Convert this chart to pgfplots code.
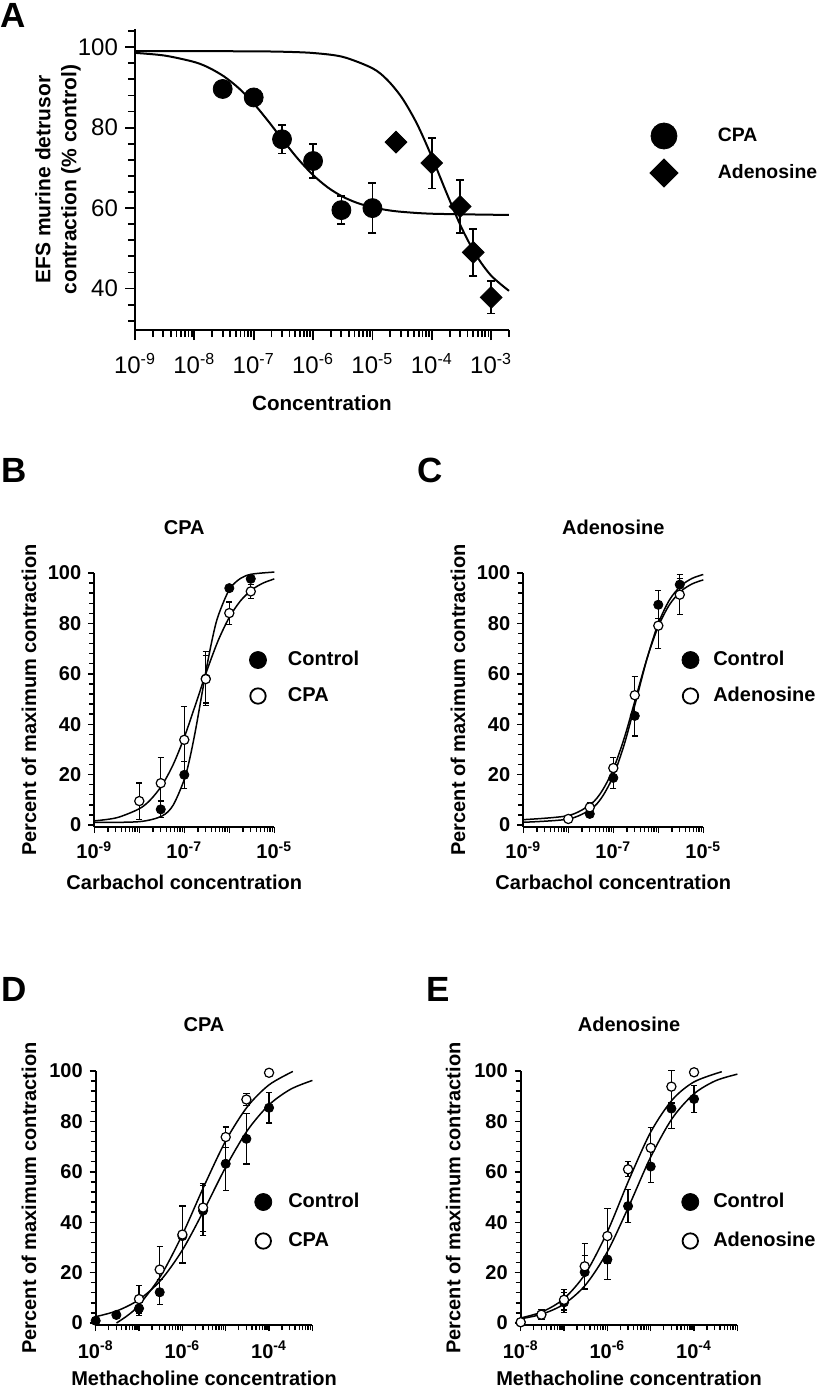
\documentclass[border=0pt]{standalone}
\usepackage{fontspec}
\setmainfont{Liberation Sans}
\usepackage{pgfplots}
\usepackage{pgfplotstable}
\pgfplotsset{compat=1.18}

\newcommand{\fb}{\bfseries\fontsize{10}{12}\selectfont}
\newcommand{\sx}[1]{10\textsuperscript{-#1}}

% ---------------- Panel A data ----------------
\pgfplotstableread{
x y e
3e-8 89.6 0
1e-7 87.5 2.0
3e-7 77.1 3.5
1e-6 71.7 4.3
3e-6 59.5 3.5
1e-5 60.0 6.2
}\Acpa
\pgfplotstableread{
x y e
2.5e-5 76.4 0
1e-4 71.2 6.3
3e-4 60.4 6.6
5e-4 49.0 5.8
1e-3 37.8 4.0
}\Aado
\pgfplotstableread{
x y
1e-9 98.57
3.162e-9 97.90
1e-8 96.30
1.778e-8 94.84
3.162e-8 92.71
5.623e-8 89.77
1e-7 85.99
1.778e-7 81.51
3.162e-7 76.73
5.623e-7 72.16
1e-6 68.22
1.778e-6 65.11
3.162e-6 62.83
5.623e-6 61.25
1e-5 60.19
1.778e-5 59.50
3.162e-5 59.06
1e-4 58.60
1e-3 58.35
2e-3 58.32
}\AcpaFit
\pgfplotstableread{
x y
1e-9 99.0
1e-8 99.0
1e-7 98.95
3.162e-7 98.85
1e-6 98.54
3.162e-6 97.58
1e-5 94.75
1.778e-5 91.86
3.162e-5 87.36
5.623e-5 80.96
1e-4 72.76
1.778e-4 63.74
3.162e-4 55.17
5.623e-4 48.23
1e-3 43.22
2e-3 39.43
}\AadoFit

% ---------------- Panel B data ----------------
\pgfplotstableread{
x y e
3e-8 6.2 3.3
1e-7 19.9 5.3
3e-7 58.1 10.7
1e-6 94.0 0
3e-6 97.7 0
}\Bctl
\pgfplotstableread{
x y e
1e-8 9.5 7.2
3e-8 16.6 10.3
1e-7 33.8 13.2
3e-7 57.9 9.5
1e-6 84.1 4.4
3e-6 92.7 2.7
}\Bcpa
\pgfplotstableread{
x y
1e-9 1.0
1e-8 1.33
3.162e-8 3.53
5.623e-8 7.81
1e-7 18.06
1.334e-7 26.66
1.778e-7 37.66
2.371e-7 50.23
3.162e-7 62.87
4.217e-7 74.05
5.623e-7 82.84
1e-6 93.43
1.778e-6 97.87
3.162e-6 99.55
1e-5 100.38
}\BctlFit
\pgfplotstableread{
x y
1e-9 1.64
3.162e-9 2.89
1e-8 6.45
1.778e-8 10.05
3.162e-8 15.66
5.623e-8 23.86
1e-7 34.81
1.778e-7 47.80
3.162e-7 61.15
5.623e-7 73.07
1e-6 82.40
1.778e-6 88.98
3.162e-6 93.32
5.623e-6 96.01
1e-5 97.65
}\BcpaFit

% ---------------- Panel C data ----------------
\pgfplotstableread{
x y e
3e-8 4.4 1.5
1e-7 18.7 4.2
3e-7 43.3 8.0
1e-6 87.4 5.6
3e-6 95.4 2.5
}\Cctl
\pgfplotstableread{
x y e
1e-8 2.4 0
3e-8 7.0 2.0
1e-7 22.6 4.3
3e-7 51.5 7.5
1e-6 79.1 9.0
3e-6 91.4 8.0
}\Cado
\pgfplotstableread{
x y
1e-9 1.08
1e-8 2.35
3.162e-8 6.26
5.623e-8 11.08
1e-7 19.46
1.778e-7 32.35
3.162e-7 48.96
5.623e-7 66.04
1e-6 79.98
1.778e-6 89.35
3.162e-6 94.87
5.623e-6 97.86
1e-5 99.42
}\CctlFit
\pgfplotstableread{
x y
1e-9 2.12
1e-8 3.73
3.162e-8 8.28
5.623e-8 13.53
1e-7 22.20
1.778e-7 34.88
3.162e-7 50.50
5.623e-7 66.12
1e-6 78.80
1.778e-6 87.47
3.162e-6 92.72
5.623e-6 95.67
1e-5 97.27
}\CadoFit

% ---------------- Panel D data ----------------
\pgfplotstableread{
x y e
1e-8 0.9 0
3e-8 3.2 0
1e-7 5.8 2.7
3e-7 12.2 5.0
1e-6 34.5 0
3e-6 44.6 10.0
1e-5 63.2 10.6
3e-5 73.1 10.0
1e-4 85.4 6.0
}\Dctl
\pgfplotstableread{
x y e
1e-7 9.5 5.5
3e-7 21.2 9.3
1e-6 35.1 11.3
3e-6 45.8 9.5
1e-5 73.8 4.0
3e-5 88.7 2.3
1e-4 99.3 0
}\Dcpa
\pgfplotstableread{
x y
1e-8 2.51
3.162e-8 4.88
1e-7 9.28
3.162e-7 16.95
1e-6 28.94
3.162e-6 44.84
1e-5 61.86
3.162e-5 76.40
1e-4 86.59
3.162e-4 92.80
1e-3 96.26
}\DctlFit
\pgfplotstableread{
x y
3.02e-8 0.0
5.623e-8 3.16
1e-7 7.15
3.162e-7 18.68
1e-6 35.10
3.162e-6 54.33
1e-5 72.29
3.162e-5 85.84
1e-4 94.51
3.55e-4 99.83
}\DcpaFit

% ---------------- Panel E data ----------------
\pgfplotstableread{
x y e
1e-8 0.3 0
3e-8 3.3 0
1e-7 8.2 4.0
3e-7 20.2 6.5
1e-6 25.2 7.8
3e-6 46.4 6.6
1e-5 62.1 6.4
3e-5 85.1 8.0
1e-4 88.9 5.3
}\Ectl
\pgfplotstableread{
x y e
1e-8 0.3 0
3e-8 3.3 2.0
1e-7 9.2 4.0
3e-7 22.5 9.0
1e-6 34.5 11.0
3e-6 61.0 3.0
1e-5 69.5 8.0
3e-5 93.8 6.5
1e-4 99.5 0
}\Eado
\pgfplotstableread{
x y
1e-8 1.66
3.162e-8 3.57
1e-7 7.53
3.162e-7 15.19
1e-6 28.29
3.162e-6 46.52
1e-5 65.90
3.162e-5 81.31
1e-4 90.97
3.162e-4 96.17
1e-3 98.75
}\EctlFit
\pgfplotstableread{
x y
1e-8 2.0
3.162e-8 4.47
1e-7 9.69
3.162e-7 19.77
1e-6 36.22
3.162e-6 56.89
1e-5 75.78
3.162e-5 88.61
1e-4 95.69
4.365e-4 99.73
}\EadoFit

\pgfplotsset{
  smallpanel/.style={
    scale only axis, clip=false,
    axis x line*=bottom, axis y line*=left,
    tick align=outside,
    legend cell align=left,
    height=127pt, ymin=-0.8, ymax=100,
    axis line style={line width=0.85pt},
    tick style={black, line width=0.7pt},
    major tick length=3pt, minor tick length=2.5pt,
    ytick={0,20,40,60,80,100},
    minor ytick={0,4,...,100},
    tick label style={font=\fb},
    xticklabel style={anchor=base, yshift=-12.7pt},
    title style={at={(axis description cs:0.5,1.1063)}, anchor=base, font=\fb},
    xlabel style={at={(axis description cs:0.5,-0.246)}, anchor=base, font=\fb},
    ylabel={Percent of maximum contraction},
    ylabel style={anchor=center, font=\fb},
    legend style={draw=none, fill=none, inner sep=0pt, outer sep=0pt,
      row sep=0pt, column sep=0pt, anchor=west,
      nodes={draw=none, fill=none, inner sep=0pt, font=\fb}},
  },
  minBC/.style={minor xtick={2e-9,3e-9,4e-9,5e-9,6e-9,7e-9,8e-9,9e-9,2e-8,3e-8,4e-8,5e-8,6e-8,7e-8,8e-8,9e-8,2e-7,3e-7,4e-7,5e-7,6e-7,7e-7,8e-7,9e-7,2e-6,3e-6,4e-6,5e-6,6e-6,7e-6,8e-6,9e-6}},
  minDE/.style={minor xtick={2e-8,3e-8,4e-8,5e-8,6e-8,7e-8,8e-8,9e-8,2e-7,3e-7,4e-7,5e-7,6e-7,7e-7,8e-7,9e-7,2e-6,3e-6,4e-6,5e-6,6e-6,7e-6,8e-6,9e-6,2e-5,3e-5,4e-5,5e-5,6e-5,7e-5,8e-5,9e-5,2e-4,3e-4,4e-4,5e-4,6e-4,7e-4,8e-4,9e-4}},
  fitline/.style={black, line width=0.75pt, smooth, mark=none, forget plot},
  ebar/.style={forget plot, draw=none, mark=none,
    error bars/y dir=both, error bars/y explicit,
    error bars/error bar style={draw=black, line width=0.6pt},
    error bars/error mark options={rotate=90, draw=black, line width=0.6pt, mark size=1.6pt}},
  ebarA/.style={forget plot, draw=none, mark=none,
    error bars/y dir=both, error bars/y explicit,
    error bars/error bar style={draw=black, line width=0.85pt},
    error bars/error mark options={rotate=90, draw=black, line width=0.85pt, mark size=2pt}},
  filledpt/.style={only marks, mark=*, mark size=2.3pt, mark options={fill=black, draw=black}},
  openpt/.style={only marks, mark=*, mark size=2.3pt, mark options={fill=white, draw=black, line width=0.6pt}},
}

\begin{document}
\begin{tikzpicture}[x=0.5pt,y=-0.5pt]
\useasboundingbox (0,0) rectangle (819,1389);

% panel letters
\node[anchor=base west, inner sep=0pt, font=\bfseries\fontsize{17.5}{20}\selectfont] at (0,27) {A};
\node[anchor=base west, inner sep=0pt, font=\bfseries\fontsize{17.5}{20}\selectfont] at (1,482) {B};
\node[anchor=base west, inner sep=0pt, font=\bfseries\fontsize{17.5}{20}\selectfont] at (417,482) {C};
\node[anchor=base west, inner sep=0pt, font=\bfseries\fontsize{17.5}{20}\selectfont] at (1,1001) {D};
\node[anchor=base west, inner sep=0pt, font=\bfseries\fontsize{17.5}{20}\selectfont] at (426,1001) {E};

% ================= Panel A =================
\begin{axis}[
  xmode=log,
  scale only axis, clip=false,
  axis x line*=bottom, axis y line*=left,
  tick align=outside,
  legend cell align=left,
  at={(67.5pt,-165pt)}, anchor=south west,
  width=187pt, height=150.5pt,
  xmin=1e-9, xmax=2e-3, ymin=29.7, ymax=104.5,
  axis line style={line width=1.1pt},
  tick style={black, line width=0.9pt},
  major tick length=5pt, minor tick length=3.5pt,
  xtick={1e-9,1e-8,1e-7,1e-6,1e-5,1e-4,1e-3},
  xticklabels={\sx{9},\sx{8},\sx{7},\sx{6},\sx{5},\sx{4},\sx{3}},
  minor xtick={2e-9,3e-9,4e-9,5e-9,6e-9,7e-9,8e-9,9e-9,2e-8,3e-8,4e-8,5e-8,6e-8,7e-8,8e-8,9e-8,2e-7,3e-7,4e-7,5e-7,6e-7,7e-7,8e-7,9e-7,2e-6,3e-6,4e-6,5e-6,6e-6,7e-6,8e-6,9e-6,2e-5,3e-5,4e-5,5e-5,6e-5,7e-5,8e-5,9e-5,2e-4,3e-4,4e-4,5e-4,6e-4,7e-4,8e-4,9e-4,2e-3},
  ytick={40,60,80,100},
  minor ytick={32,36,...,104},
  yticklabel style={/pgf/number format/assume math mode=true},
  tick label style={font=\fontsize{12}{14}\selectfont},
  xticklabel style={anchor=base, yshift=-16.5pt},
  xlabel={Concentration},
  xlabel style={at={(axis description cs:0.5,-0.2658)}, anchor=base, font=\bfseries\fontsize{10.3}{12}\selectfont},
  ylabel={EFS murine detrusor\\contraction (\% control)},
  ylabel style={at={(axis description cs:-0.206,0.5)}, anchor=center, align=center, font=\bfseries\fontsize{10.5}{13}\selectfont},
  legend style={at={(axis description cs:1.3743,0.5831)}, anchor=west, draw=none, fill=none,
    inner sep=0pt, outer sep=0pt, row sep=0pt, column sep=0pt,
    nodes={draw=none, fill=none, inner sep=0pt, font=\bfseries\fontsize{9.7}{12}\selectfont}},
]
\addplot[fitline, line width=1pt] table[x=x,y=y] {\AcpaFit};
\addplot[fitline, line width=1pt] table[x=x,y=y] {\AadoFit};
\addplot[ebarA] table[x=x,y=y,y error=e] {\Acpa};
\addplot[ebarA] table[x=x,y=y,y error=e] {\Aado};
\addplot[only marks, mark=*, mark size=4.75pt, mark options={fill=black, draw=black},
  legend image code/.code={\path[draw=none,fill=none] (-7.5pt,-9.25pt) rectangle (27pt,9.25pt);
    \fill[black] (0pt,0pt) circle (6.5pt);}] table[x=x,y=y] {\Acpa};
\addlegendentry{CPA}
\addplot[only marks, mark=square*, mark size=3.85pt, mark options={rotate=45, fill=black, draw=black},
  legend image code/.code={\path[draw=none,fill=none] (-7.5pt,-9.25pt) rectangle (27pt,9.25pt);
    \fill[black] (0pt,7pt) -- (7pt,0pt) -- (0pt,-7pt) -- (-7pt,0pt) -- cycle;}] table[x=x,y=y] {\Aado};
\addlegendentry{Adenosine}
\end{axis}

% ================= Panel B =================
\begin{axis}[
  xmode=log,
  smallpanel,
  yticklabel style={/pgf/number format/assume math mode=true},
  at={(47.15pt,-413.5pt)}, anchor=south west, width=90pt,
  xmin=1e-9, xmax=1e-5,
  xtick={1e-9,1e-8,1e-7,1e-6,1e-5},
  xticklabels={\sx{9},,\sx{7},,\sx{5}},
  minBC,
  title={CPA},
  xlabel={Carbachol concentration},
  ylabel style={at={(axis description cs:-0.3628,0.5)}},
  legend style={at={(axis description cs:0.8539,0.5866)}},
]
\addplot[fitline] table[x=x,y=y] {\BctlFit};
\addplot[fitline] table[x=x,y=y] {\BcpaFit};
\addplot[ebar] table[x=x,y=y,y error=e] {\Bctl};
\addplot[filledpt, legend image code/.code={\path[draw=none,fill=none] (-5pt,-9pt) rectangle (15pt,9pt);
    \fill[black] (0pt,0pt) circle (4.25pt);}] table[x=x,y=y] {\Bctl};
\addlegendentry{Control}
\addplot[ebar] table[x=x,y=y,y error=e] {\Bcpa};
\addplot[openpt, legend image code/.code={\path[draw=none,fill=none] (-5pt,-9pt) rectangle (15pt,9pt);
    \draw[black, fill=white, line width=0.9pt] (0pt,0pt) circle (3.85pt);}] table[x=x,y=y] {\Bcpa};
\addlegendentry{CPA}
\end{axis}

% ================= Panel C =================
\begin{axis}[
  xmode=log,
  smallpanel,
  yticklabel style={/pgf/number format/assume math mode=true},
  at={(261.65pt,-413.5pt)}, anchor=south west, width=90pt,
  xmin=1e-9, xmax=1e-5,
  xtick={1e-9,1e-8,1e-7,1e-6,1e-5},
  xticklabels={\sx{9},,\sx{7},,\sx{5}},
  minBC,
  title={Adenosine},
  xlabel={Carbachol concentration},
  ylabel style={at={(axis description cs:-0.3628,0.5)}},
  legend style={at={(axis description cs:0.8733,0.5866)}},
]
\addplot[fitline] table[x=x,y=y] {\CctlFit};
\addplot[fitline] table[x=x,y=y] {\CadoFit};
\addplot[ebar] table[x=x,y=y,y error=e] {\Cctl};
\addplot[filledpt, legend image code/.code={\path[draw=none,fill=none] (-5pt,-9pt) rectangle (11.4pt,9pt);
    \fill[black] (0pt,0pt) circle (4.25pt);}] table[x=x,y=y] {\Cctl};
\addlegendentry{Control}
\addplot[ebar] table[x=x,y=y,y error=e] {\Cado};
\addplot[openpt, legend image code/.code={\path[draw=none,fill=none] (-5pt,-9pt) rectangle (11.4pt,9pt);
    \draw[black, fill=white, line width=0.9pt] (0pt,0pt) circle (3.85pt);}] table[x=x,y=y] {\Cado};
\addlegendentry{Adenosine}
\end{axis}

% ================= Panel D =================
\begin{axis}[
  xmode=log,
  smallpanel,
  yticklabel style={/pgf/number format/assume math mode=true},
  at={(47.85pt,-662.5pt)}, anchor=south west, width=108.35pt,
  xmin=1e-8, xmax=1e-3,
  xtick={1e-8,1e-7,1e-6,1e-5,1e-4,1e-3},
  xticklabels={\sx{8},,\sx{6},,\sx{4},},
  minDE,
  xticklabel style={yshift=-0.8pt},
  title={CPA},
  title style={at={(axis description cs:0.5,1.1102)}},
  xlabel={Methacholine concentration},
  xlabel style={at={(axis description cs:0.5,-0.240)}},
  ylabel style={at={(axis description cs:-0.3078,0.5)}},
  legend style={at={(axis description cs:0.7273,0.4075)}},
]
\addplot[fitline] table[x=x,y=y] {\DctlFit};
\addplot[fitline] table[x=x,y=y] {\DcpaFit};
\addplot[ebar] table[x=x,y=y,y error=e] {\Dctl};
\addplot[filledpt, legend image code/.code={\path[draw=none,fill=none] (-5pt,-9.75pt) rectangle (12.5pt,9.75pt);
    \fill[black] (0pt,0pt) circle (4.25pt);}] table[x=x,y=y] {\Dctl};
\addlegendentry{Control}
\addplot[ebar] table[x=x,y=y,y error=e] {\Dcpa};
\addplot[openpt, legend image code/.code={\path[draw=none,fill=none] (-5pt,-9.75pt) rectangle (12.5pt,9.75pt);
    \draw[black, fill=white, line width=0.9pt] (0pt,0pt) circle (3.85pt);}] table[x=x,y=y] {\Dcpa};
\addlegendentry{CPA}
\end{axis}

% ================= Panel E =================
\begin{axis}[
  xmode=log,
  smallpanel,
  yticklabel style={/pgf/number format/assume math mode=true},
  at={(260.35pt,-662.5pt)}, anchor=south west, width=108.35pt,
  xmin=1e-8, xmax=1e-3,
  xtick={1e-8,1e-7,1e-6,1e-5,1e-4,1e-3},
  xticklabels={\sx{8},,\sx{6},,\sx{4},},
  minDE,
  xticklabel style={yshift=-0.8pt},
  title={Adenosine},
  title style={at={(axis description cs:0.5,1.1102)}},
  xlabel={Methacholine concentration},
  xlabel style={at={(axis description cs:0.5,-0.240)}},
  ylabel style={at={(axis description cs:-0.311,0.5)}},
  legend style={at={(axis description cs:0.7365,0.4075)}},
]
\addplot[fitline] table[x=x,y=y] {\EctlFit};
\addplot[fitline] table[x=x,y=y] {\EadoFit};
\addplot[ebar] table[x=x,y=y,y error=e] {\Ectl};
\addplot[filledpt, legend image code/.code={\path[draw=none,fill=none] (-5pt,-9.75pt) rectangle (11.5pt,9.75pt);
    \fill[black] (0pt,0pt) circle (4.25pt);}] table[x=x,y=y] {\Ectl};
\addlegendentry{Control}
\addplot[ebar] table[x=x,y=y,y error=e] {\Eado};
\addplot[openpt, legend image code/.code={\path[draw=none,fill=none] (-5pt,-9.75pt) rectangle (11.5pt,9.75pt);
    \draw[black, fill=white, line width=0.9pt] (0pt,0pt) circle (3.85pt);}] table[x=x,y=y] {\Eado};
\addlegendentry{Adenosine}
\end{axis}
\end{tikzpicture}
\end{document}
